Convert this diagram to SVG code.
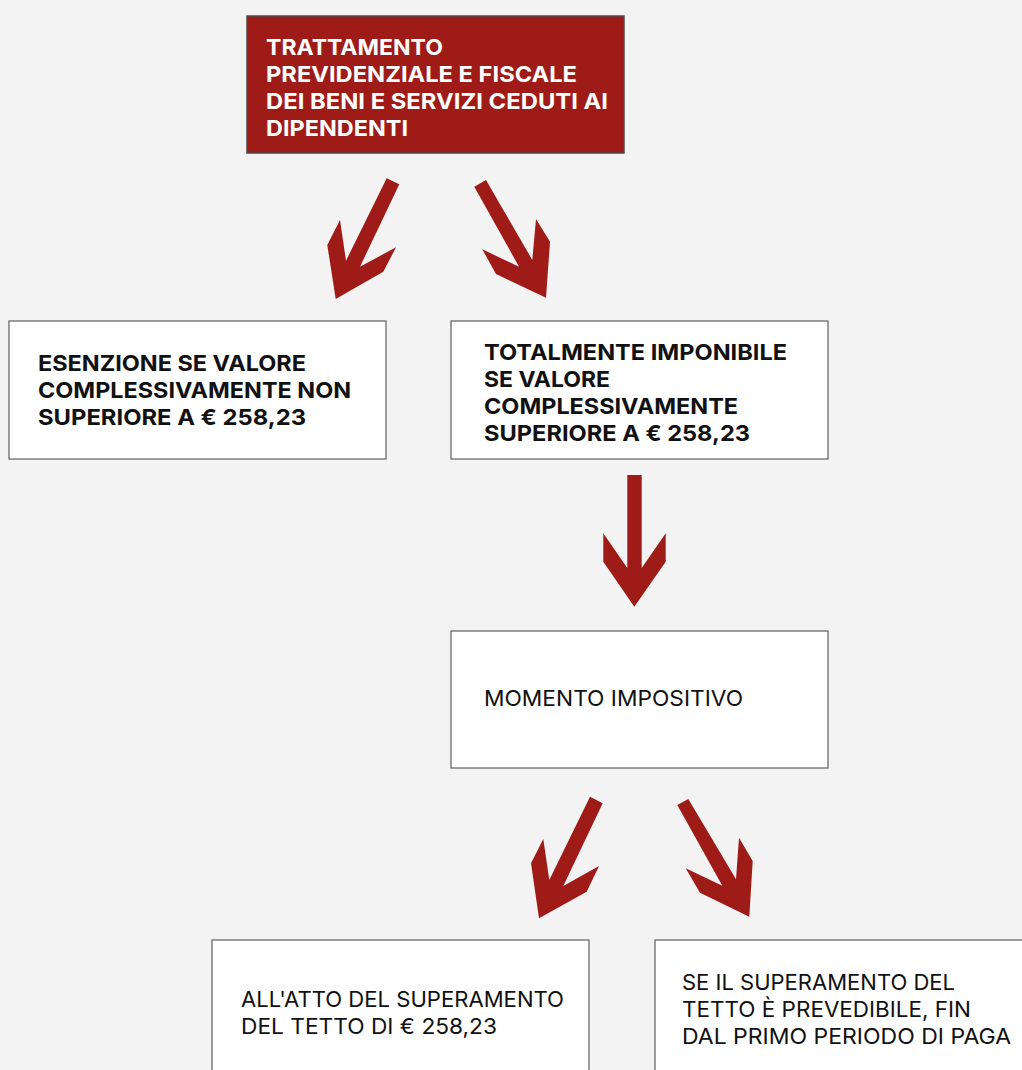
<svg xmlns="http://www.w3.org/2000/svg" width="1022" height="1070" viewBox="0 0 1022 1070">
<style>
.box{fill:#ffffff;stroke:#5f5f5f;stroke-width:1.2}
.top{fill:#9e1b18;stroke:#4a4a4a;stroke-width:1.5}
.t{font-family:Inter,"Noto Sans","Liberation Sans",sans-serif;font-size:22px;fill:#111}
.b{font-weight:bold}
.w{fill:#ffffff}
.arr{fill:#9e1b18}
</style>
<rect width="1022" height="1070" fill="#f3f3f3"/>
<g id="n-top">
<rect class="top" x="247" y="16" width="377" height="137"/>
<text class="t b w" x="266" y="55" textLength="177" lengthAdjust="spacingAndGlyphs">TRATTAMENTO</text>
<text class="t b w" x="266" y="82" textLength="311" lengthAdjust="spacingAndGlyphs">PREVIDENZIALE E FISCALE</text>
<text class="t b w" x="266" y="109" textLength="342" lengthAdjust="spacingAndGlyphs">DEI BENI E SERVIZI CEDUTI AI</text>
<text class="t b w" x="266" y="136" textLength="142" lengthAdjust="spacingAndGlyphs">DIPENDENTI</text>
</g>
<g id="n-esenzione">
<rect class="box" x="9" y="321" width="377" height="138"/>
<text class="t b" x="38" y="371" textLength="268" lengthAdjust="spacingAndGlyphs">ESENZIONE SE VALORE</text>
<text class="t b" x="38" y="398" textLength="313" lengthAdjust="spacingAndGlyphs">COMPLESSIVAMENTE NON</text>
<text class="t b" x="38" y="425" textLength="268" lengthAdjust="spacingAndGlyphs">SUPERIORE A € 258,23</text>
</g>
<g id="n-imponibile">
<rect class="box" x="451" y="321" width="377" height="138"/>
<text class="t b" x="484" y="360" textLength="303" lengthAdjust="spacingAndGlyphs">TOTALMENTE IMPONIBILE</text>
<text class="t b" x="484" y="387" textLength="126" lengthAdjust="spacingAndGlyphs">SE VALORE</text>
<text class="t b" x="484" y="414" textLength="254" lengthAdjust="spacingAndGlyphs">COMPLESSIVAMENTE</text>
<text class="t b" x="484" y="441" textLength="266" lengthAdjust="spacingAndGlyphs">SUPERIORE A € 258,23</text>
</g>
<g id="n-momento">
<rect class="box" x="451" y="631" width="377" height="137"/>
<text class="t" x="484" y="706" textLength="259" lengthAdjust="spacingAndGlyphs">MOMENTO IMPOSITIVO</text>
</g>
<g id="n-atto">
<rect class="box" x="212" y="940" width="377" height="140"/>
<text class="t" x="241" y="1007" textLength="323" lengthAdjust="spacingAndGlyphs">ALL'ATTO DEL SUPERAMENTO</text>
<text class="t" x="241" y="1034" textLength="256" lengthAdjust="spacingAndGlyphs">DEL TETTO DI € 258,23</text>
</g>
<g id="n-prevedibile">
<rect class="box" x="655" y="940" width="377" height="140"/>
<text class="t" x="682" y="990" textLength="273" lengthAdjust="spacingAndGlyphs">SE IL SUPERAMENTO DEL</text>
<text class="t" x="682" y="1017" textLength="289" lengthAdjust="spacingAndGlyphs">TETTO È PREVEDIBILE, FIN</text>
<text class="t" x="682" y="1044" textLength="329" lengthAdjust="spacingAndGlyphs">DAL PRIMO PERIODO DI PAGA</text>
</g>
<g id="connectors">
<polygon class="arr" points="386.7,178.3 399.3,184.3 360,266.7 396,247.3 383.3,271.7 335.7,299 327.3,245 340,220 346,260.7"/>
<polygon class="arr" points="474.3,186.7 486,180 532.3,260 536,219 550,241.7 546,297.7 496,274 482.3,249.3 519,266.7"/>
<polygon class="arr" points="627.3,475 641.7,475 641.7,568 665.7,533.3 665.7,561.7 634.3,606.7 603.3,561.7 603.3,533.3 627.3,568"/>
<polygon class="arr" points="590,796.7 602.7,803.3 563.3,886 599,866 586.7,891.7 539,918.3 531,863.3 543.3,839 549.3,880"/>
<polygon class="arr" points="677.3,805 688.3,799 736,879.3 739,837.7 752.7,861 749.3,916.7 700,892.7 685.7,868.3 722.3,885.7"/>
</g>
</svg>
